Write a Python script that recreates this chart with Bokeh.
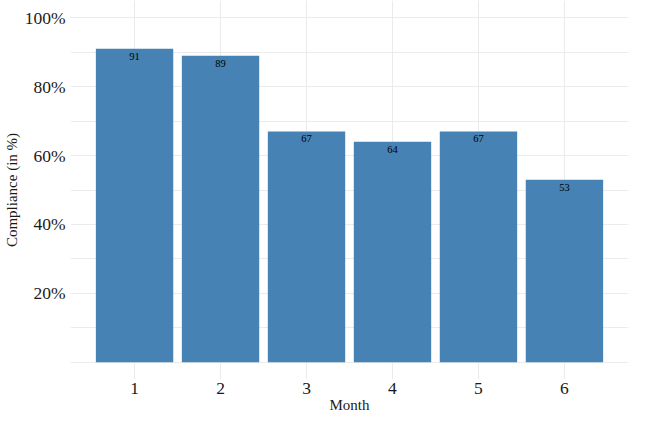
from bokeh.plotting import figure
from bokeh.models import Range1d, FixedTicker, PrintfTickFormatter, ColumnDataSource
from bokeh.core.properties import value
from bokeh.embed import file_html
from bokeh.resources import INLINE

months = [1, 2, 3, 4, 5, 6]
compliance = [91, 89, 67, 64, 67, 53]
labels = [str(v) for v in compliance]
y_ticks = [20, 40, 60, 80, 100]
grid_ticks = [0, 10, 20, 30, 40, 50, 60, 70, 80, 90, 100]

FONT = "Liberation Serif"
BAR = "#4682B4"
GRID = "#EBEBEB"
TXT = "#1a1a1a"

src = ColumnDataSource(dict(x=months, top=compliance, lab=labels))

p = figure(width=630, height=415, output_backend="svg", toolbar_location=None,
           x_range=Range1d(0.255, 6.745), y_range=Range1d(-5, 105),
           min_border_left=68, min_border_right=2, min_border_top=0, min_border_bottom=36)
p.outline_line_color = None
p.background_fill_color = "white"
p.border_fill_color = "white"

p.vbar(x="x", top="top", bottom=0, width=0.9, source=src, fill_color=BAR, line_color=None)
p.text(x="x", y="top", text="lab", source=src, text_align="center", text_baseline="top",
       y_offset=4, text_font_size="10.5px", text_color="black",
       text_font=value(FONT))

# grids
p.xgrid.ticker = FixedTicker(ticks=months)
p.ygrid.ticker = FixedTicker(ticks=grid_ticks)
for g in (p.xgrid, p.ygrid):
    g.grid_line_color = GRID
    g.grid_line_width = 1.1

# axes
p.xaxis.ticker = FixedTicker(ticks=months)
p.yaxis.ticker = FixedTicker(ticks=y_ticks)
p.yaxis.formatter = PrintfTickFormatter(format="%d%%")
for ax in (p.xaxis[0], p.yaxis[0]):
    ax.axis_line_color = None
    ax.major_tick_line_color = None
    ax.minor_tick_line_color = None
    ax.major_tick_out = 0
    ax.major_tick_in = 0
    ax.minor_tick_out = 0
    ax.minor_tick_in = 0
    ax.major_label_text_font = FONT
    ax.major_label_text_font_size = "17.5px"
    ax.major_label_text_color = TXT
    ax.axis_label_text_font = FONT
    ax.axis_label_text_font_size = "15px"
    ax.axis_label_text_font_style = "normal"
    ax.axis_label_text_color = TXT
p.xaxis.axis_label = "Month"
p.yaxis.axis_label = "Compliance (in %)"
p.xaxis.major_label_standoff = 3
p.xaxis.axis_label_standoff = 0
p.yaxis.major_label_standoff = 5
p.yaxis.axis_label_standoff = 2

open("out.html", "w").write(file_html(p, INLINE))
